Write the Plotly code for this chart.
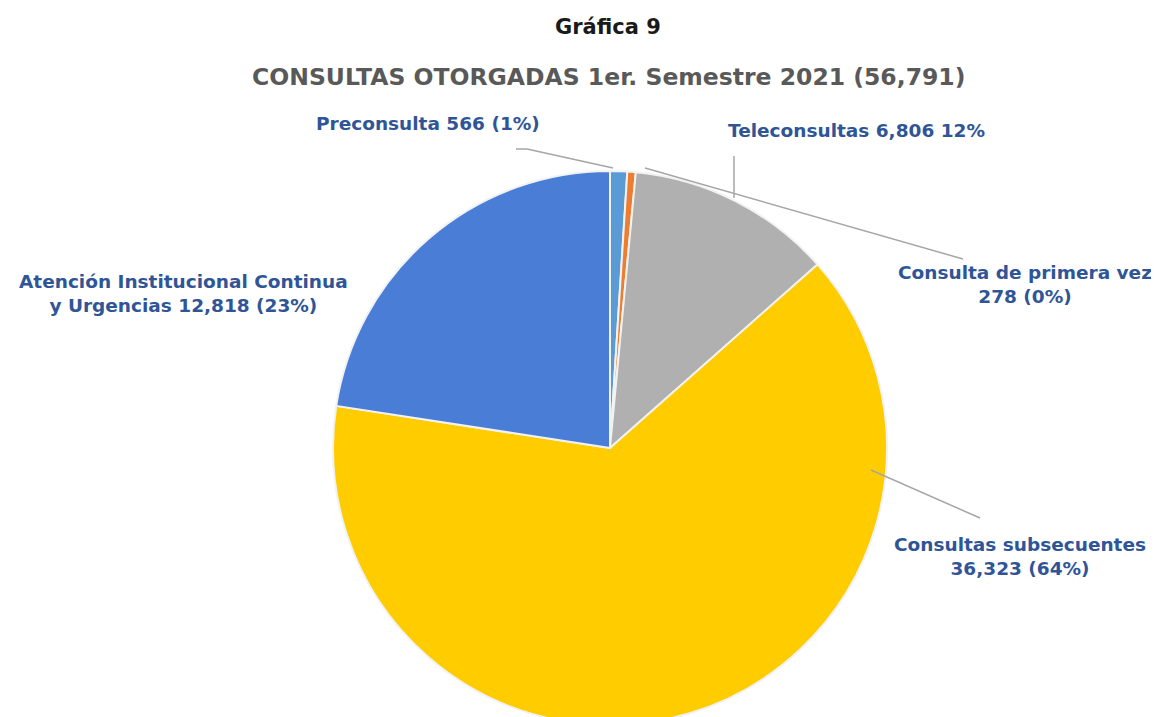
import plotly.graph_objects as go

W, H = 1159, 717

categories = ["Preconsulta", "Consulta de primera vez", "Teleconsultas",
              "Consultas subsecuentes", "Atención Institucional Continua y Urgencias"]
values = [566, 278, 6806, 36323, 12818]
colors = ["#5B9BD5", "#ED7D31", "#B0B0B0", "#FFCC00", "#4A7ED6"]
label_texts = [
    "Preconsulta 566 (1%)",
    "Consulta de primera vez<br>278 (0%)",
    "Teleconsultas 6,806 12%",
    "Consultas subsecuentes<br>36,323 (64%)",
    "Atención Institucional Continua<br>y Urgencias 12,818 (23%)",
]
title_top = "Gráfica 9"
title_main = "CONSULTAS OTORGADAS 1er. Semestre 2021 (56,791)"

OFF = 8  # page body offset

def px(x):
    return (x - OFF) / W

def py(y):
    return 1 - (y - OFF) / H

# pie geometry in page pixels
cx, cy, r = 610, 448, 277

fig = go.Figure(go.Pie(
    labels=categories,
    values=values,
    sort=False,
    direction="clockwise",
    rotation=0,
    textinfo="none",
    hoverinfo="label+value+percent",
    marker=dict(colors=colors, line=dict(color="#F2F2F2", width=2)),
    domain=dict(x=[px(cx - r), px(cx + r)], y=[max(0, py(cy + r)), py(cy - r)]),
    showlegend=False,
))

FONT = "DejaVu Sans, Verdana, sans-serif"
font_lbl = dict(family=FONT, size=18.5, color="#2F5597")
label_pos = [(428, 124), (1025, 285), (856, 131), (1020, 556), (183, 293)]
for t, (x, y) in zip(label_texts, label_pos):
    fig.add_annotation(x=px(x), y=py(y), xref="paper", yref="paper", text="<b>" + t + "</b>",
                       showarrow=False, font=font_lbl, align="center",
                       xanchor="center", yanchor="middle")

fig.add_annotation(x=px(608), y=py(27), xref="paper", yref="paper", text="<b>" + title_top + "</b>",
                   showarrow=False, font=dict(family=FONT, size=21, color="#1A1A1A"),
                   xanchor="center", yanchor="middle")
fig.add_annotation(x=px(608), y=py(77), xref="paper", yref="paper", text="<b>" + title_main + "</b>",
                   showarrow=False, font=dict(family=FONT, size=23.5, color="#595959"),
                   xanchor="center", yanchor="middle")

# leader lines
leaders = [
    [(516, 149), (527, 149), (613, 168)],
    [(734, 156), (734, 198)],
    [(963, 259), (645, 168)],
    [(980, 518), (871, 470)],
]
for pts in leaders:
    for (x0, y0), (x1, y1) in zip(pts[:-1], pts[1:]):
        fig.add_shape(type="line", xref="paper", yref="paper",
                      x0=px(x0), y0=py(y0), x1=px(x1), y1=py(y1),
                      line=dict(color="#A6A6A6", width=1.5))

fig.update_layout(width=W, height=H, margin=dict(l=0, r=0, t=0, b=0),
                  paper_bgcolor="white", plot_bgcolor="white")
fig.write_html("out.html")
